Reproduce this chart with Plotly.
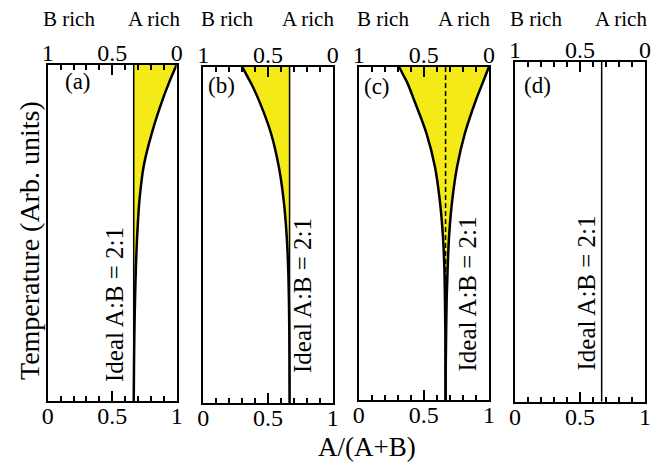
import plotly.graph_objects as go

# ---- data ----
temperature = [0, 0.1, 0.2, 0.3, 0.4, 0.5, 0.6, 0.7, 0.8, 0.9, 0.95, 0.975, 1.0]
ideal_ratio = 2 / 3
curve_a = [0.667, 0.669, 0.672, 0.677, 0.684, 0.695, 0.712, 0.745, 0.81, 0.895, 0.945, 0.972, 1.0]
curve_b = [0.667, 0.666, 0.665, 0.662, 0.656, 0.644, 0.622, 0.585, 0.525, 0.43, 0.37, 0.335, 0.30]
curve_c_left = [0.667, 0.666, 0.665, 0.662, 0.657, 0.645, 0.622, 0.585, 0.52, 0.425, 0.375, 0.342, 0.31]
curve_c_right = [0.667, 0.668, 0.671, 0.675, 0.683, 0.695, 0.718, 0.755, 0.815, 0.90, 0.95, 0.975, 1.0]
panel_labels = ["(a)", "(b)", "(c)", "(d)"]
bottom_ticks = [0, 0.5, 1]
bottom_ticktext = ["0", "0.5", "1"]
ideal_text = "Ideal A:B = 2:1"

W, H = 651, 465
FONT = "Liberation Serif, Times New Roman, serif"
YELLOW = "#F4EA18"

# panel frames in pixels: (left, right, top, bottom)
frames = [(47.7, 176.7, 64.5, 401.0),
          (203.3, 332.7, 66.7, 403.3),
          (358.7, 489.0, 66.7, 400.0),
          (515.0, 645.0, 61.7, 401.7)]

fig = go.Figure()

def xd(px):
    return px / W

def yd(py):
    return 1 - py / H

def add(trace, i, xname=None):
    n = "" if i == 0 else str(i + 1)
    trace.update(xaxis=xname or f"x{n}", yaxis=f"y{n}")
    fig.add_trace(trace)

SPL = dict(shape="spline", smoothing=1.0)
ideal_x = [ideal_ratio, ideal_ratio]
ideal_y = [0, 1]

# yellow regions (fills between traces, no visible outline)
add(go.Scatter(x=ideal_x, y=ideal_y, mode="lines", line=dict(width=0), hoverinfo="skip"), 0)
add(go.Scatter(x=curve_a, y=temperature, mode="lines", line=dict(width=0, **SPL),
               fill="tonextx", fillcolor=YELLOW, hoverinfo="skip"), 0)
add(go.Scatter(x=ideal_x, y=ideal_y, mode="lines", line=dict(width=0), hoverinfo="skip"), 1)
add(go.Scatter(x=curve_b, y=temperature, mode="lines", line=dict(width=0, **SPL),
               fill="tonextx", fillcolor=YELLOW, hoverinfo="skip"), 1)
add(go.Scatter(x=curve_c_left, y=temperature, mode="lines", line=dict(width=0, **SPL),
               hoverinfo="skip"), 2)
add(go.Scatter(x=curve_c_right, y=temperature, mode="lines", line=dict(width=0, **SPL),
               fill="tonextx", fillcolor=YELLOW, hoverinfo="skip"), 2)

# ideal lines
for i in range(4):
    dash = "5px,3px" if i == 2 else "solid"
    add(go.Scatter(x=ideal_x, y=ideal_y, mode="lines",
                   line=dict(color="black", width=1.5, dash=dash), hoverinfo="skip"), i)

# curves
add(go.Scatter(x=curve_a, y=temperature, mode="lines", line=dict(color="black", width=2.5, **SPL)), 0)
add(go.Scatter(x=curve_b, y=temperature, mode="lines", line=dict(color="black", width=2.5, **SPL)), 1)
add(go.Scatter(x=curve_c_left, y=temperature, mode="lines", line=dict(color="black", width=2.5, **SPL)), 2)
add(go.Scatter(x=curve_c_right, y=temperature, mode="lines", line=dict(color="black", width=2.5, **SPL)), 2)

# invisible helpers so the top (B fraction) axes are drawn
for i in range(4):
    add(go.Scatter(x=[0, 1], y=[0, 0], mode="markers", marker=dict(opacity=0),
                   hoverinfo="skip"), i, xname=f"x{i+5}")

layout = dict(width=W, height=H, margin=dict(l=0, r=0, t=0, b=0, autoexpand=False), showlegend=False,
              template="none", plot_bgcolor="white", paper_bgcolor="white",
              font=dict(family=FONT, size=24, color="black"))

tick_common = dict(showgrid=False, zeroline=False, automargin=False,
                   ticks="inside", ticklen=10, tickwidth=1.5, tickcolor="black",
                   tickvals=bottom_ticks, ticktext=bottom_ticktext,
                   tickfont=dict(size=24, family=FONT, color="black"),
                   minor=dict(dtick=0.1, tick0=0, ticks="inside", ticklen=5,
                              tickwidth=1.5, tickcolor="black", showgrid=False))

for i, (l, r, t, b) in enumerate(frames):
    n = "" if i == 0 else str(i + 1)
    layout[f"xaxis{n}"] = dict(domain=[xd(l), xd(r)], anchor=f"y{n}", range=[0, 1], side="bottom",
                               showline=True, linecolor="black", linewidth=2, mirror=True,
                               ticklabelstandoff=-8, **tick_common)
    layout[f"yaxis{n}"] = dict(domain=[yd(b), yd(t)], anchor=f"x{n}", range=[0, 1],
                               showline=True, linecolor="black", linewidth=2, mirror=True,
                               showgrid=False, zeroline=False, ticks="", showticklabels=False,
                               automargin=False)
    k = i + 5
    layout[f"xaxis{k}"] = dict(overlaying=f"x{n}", anchor=f"y{n}", side="top", range=[1, 0],
                               showline=False, ticklabelstandoff=-2, **tick_common)

fig.update_layout(**layout)

annotations = []
label_pos = [(78, 81), (221, 85), (377, 86), (537, 85)]
for txt, (px, py) in zip(panel_labels, label_pos):
    annotations.append(dict(text=txt, x=xd(px), y=yd(py), xref="paper", yref="paper",
                            showarrow=False, xanchor="center", yanchor="middle",
                            font=dict(size=23, family=FONT)))
rich_pos = [(69, 154), (227, 308), (383, 464), (536, 621)]
for bx, ax in rich_pos:
    for txt, px in (("B rich", bx), ("A rich", ax)):
        annotations.append(dict(text=txt, x=xd(px), y=yd(19), xref="paper", yref="paper",
                                showarrow=False, xanchor="center", yanchor="middle",
                                font=dict(size=21, family=FONT)))
ideal_pos = [(114, 305), (302.5, 295.5), (466.5, 294), (585.5, 293)]
for px, py in ideal_pos:
    annotations.append(dict(text=ideal_text, x=xd(px), y=yd(py), xref="paper", yref="paper",
                            showarrow=False, xanchor="center", yanchor="middle", textangle=-90,
                            font=dict(size=25, family=FONT)))
annotations.append(dict(text="Temperature (Arb. units)", x=xd(29.5), y=yd(240.5), xref="paper",
                        yref="paper", showarrow=False, xanchor="center", yanchor="middle",
                        textangle=-90, font=dict(size=28, family=FONT)))
annotations.append(dict(text="A/(A+B)", x=xd(367), y=yd(447), xref="paper", yref="paper",
                        showarrow=False, xanchor="center", yanchor="middle",
                        font=dict(size=27, family=FONT)))
fig.update_layout(annotations=annotations)

fig.write_html("out.html", config={"displayModeBar": False},
               post_script="document.body.style.margin='0';document.body.style.overflow='hidden';")
